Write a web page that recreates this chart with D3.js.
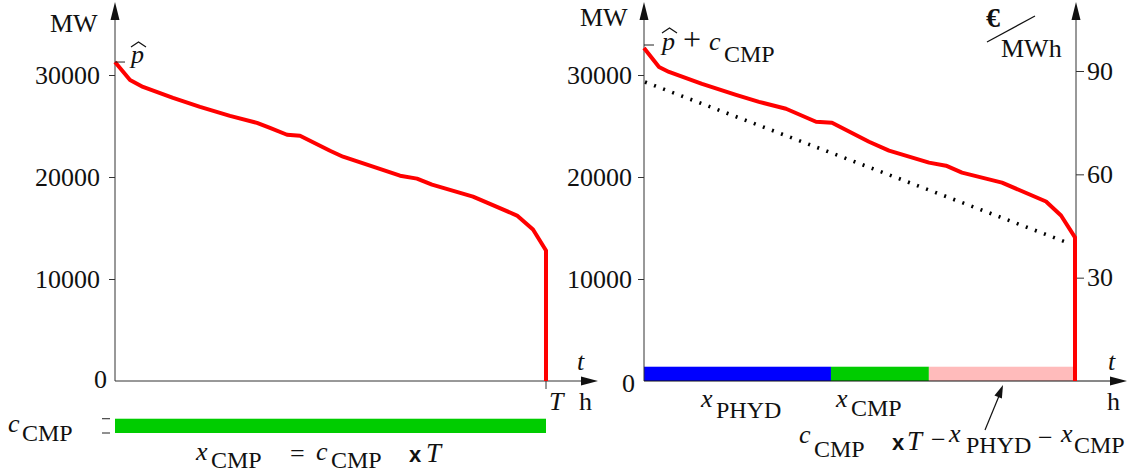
<!DOCTYPE html>
<html><head><meta charset="utf-8">
<script src="https://cdn.jsdelivr.net/npm/d3@7"></script>
<style>
body{margin:0;background:#fff}
svg{display:block}
text{font-family:"Liberation Serif","Times New Roman","DejaVu Serif",serif;fill:#111}
</style>
</head><body><svg id="c" width="1137" height="474"></svg>
<script>
// ---------------- data ----------------
const T = 8760;               // hours in the period
const cCMP = 1400;            // MW
const mwTicks = [10000, 20000, 30000];
const priceTicks = [30, 60, 90];
const leftHours = [0,305,569,1179,1728,2337,2886,3150,3496,3760,4370,4634,5793,6138,6443,7276,7561,8171,8496,8760,8760];
const leftMW    = [31270,29510,28830,27750,26870,25990,25310,24820,24140,24040,22570,21990,20130,19840,19250,18080,17490,16220,14850,12800,0];
const rightHours = [0,305,508,1179,1870,2337,2886,3496,3821,4573,4980,5793,6138,6463,7276,8171,8476,8760,8760];
const rightMW    = [32650,30790,30300,29130,28050,27370,26690,25420,25320,23460,22580,21410,21110,20430,19450,17600,16230,14080,0];
const priceHours = [20, 8600];
const priceEUR   = [86.8, 40.2];
const segNames  = ["PHYD", "CMP", "REST"];
const segStarts = [0, 3800, 5790];
const segEnds   = [3800, 5790, 8760];
const segColors = ["#0000ff", "#00cc00", "#ffbbbb"];

// ---------------- setup ----------------
const svg = d3.select("#c");
const axisCol = "#333";
const serif = '"Liberation Serif","Times New Roman","DejaVu Serif",serif';
const xL = d3.scaleLinear([0, T], [115, 546]);
const xR = d3.scaleLinear([0, T], [644, 1075]);
const y  = d3.scaleLinear([0, 30000], [381, 75]);
const yP = d3.scaleLinear([0, 90], [381, 71]);

function txt(x, yy, s, o = {}) {
  const t = svg.append("text").attr("x", x).attr("y", yy).text(s)
    .style("font-size", (o.size || 26) + "px");
  if (o.it) t.style("font-style", "italic");
  if (o.bold) t.style("font-weight", "bold");
  if (o.fam) t.style("font-family", o.fam);
  if (o.anchor) t.attr("text-anchor", o.anchor);
  return t;
}
function arrowUp(x, tipY) {
  svg.append("path").attr("d", `M${x},${tipY} L${x-4.5},${tipY+18} L${x+4.5},${tipY+18} Z`).attr("fill", "#111");
}
function arrowRight(tipX, yy) {
  svg.append("path").attr("d", `M${tipX},${yy} L${tipX-17},${yy-4.5} L${tipX-17},${yy+4.5} Z`).attr("fill", "#111");
}
function hat(x, yy) {
  svg.append("path").attr("d", `M${x},${yy+5} L${x+7.5},${yy} L${x+15},${yy+5}`)
    .attr("fill", "none").attr("stroke", "#111").attr("stroke-width", 1.2);
}
function styleTicks(g) {
  g.select(".domain").remove();
  g.selectAll(".tick line").attr("stroke", axisCol);
  g.selectAll(".tick text").style("font-family", serif).style("font-size", "26px").attr("fill", "#111");
}

const line = (xs) => d3.line().x(d => xs(d[0])).y(d => y(d[1]));

// ---------------- LEFT PANEL ----------------
const barH = y(0) - y(cCMP);
svg.append("rect").attr("x", xL(0)).attr("y", 433 - barH).attr("width", xL(T) - xL(0)).attr("height", barH).attr("fill", "#00cc00");
[433 - barH, 433].forEach(v => svg.append("line").attr("x1", 102).attr("x2", 110).attr("y1", v).attr("y2", v).attr("stroke", "#222").attr("stroke-width", 1));

svg.append("line").attr("x1", xL(0)).attr("x2", xL(0)).attr("y1", y(0)).attr("y2", 10).attr("stroke", axisCol);
arrowUp(xL(0), 2);
svg.append("line").attr("x1", xL(0)).attr("x2", xL(T) + 45).attr("y1", y(0)).attr("y2", y(0)).attr("stroke", axisCol);
arrowRight(xL(T) + 52, y(0));
svg.append("line").attr("x1", xL(T)).attr("x2", xL(T)).attr("y1", y(0)).attr("y2", y(0) + 8).attr("stroke", axisCol);

const gL = svg.append("g").attr("transform", `translate(${xL(0)},0)`)
  .call(d3.axisLeft(y).tickValues(mwTicks).tickSize(6).tickPadding(9).tickFormat(d3.format("d")));
styleTicks(gL);
txt(xL(0) - 8, y(0) + 7, "0", {anchor: "end"});

svg.append("path").datum(leftHours.map((h, i) => [h, leftMW[i]]))
  .attr("d", line(xL)).attr("fill", "none").attr("stroke", "#ff0000").attr("stroke-width", 4).attr("stroke-linejoin", "round");

svg.append("line").attr("x1", xL(0)).attr("x2", xL(0) + 10).attr("y1", y(leftMW[0])).attr("y2", y(leftMW[0])).attr("stroke", "#222");
txt(131, 63, "p", {it: true});
hat(131, 42);

txt(50, 32, "MW");
txt(577, 370, "t", {it: true});
txt(549, 410, "T", {it: true});
txt(579, 410, "h");
txt(8, 432, "c", {it: true});
txt(22, 441, "CMP", {size: 24});
txt(196, 460, "x", {it: true});
txt(211, 468, "CMP", {size: 24});
txt(290, 462, "=");
txt(316, 460, "c", {it: true});
txt(331, 468, "CMP", {size: 24});
txt(409, 462, "x", {bold: true, fam: '"Liberation Sans",sans-serif', size: 22});
txt(426, 462, "T", {it: true, size: 27});

// ---------------- RIGHT PANEL ----------------
svg.selectAll("rect.seg").data(segNames).join("rect").attr("class", "seg")
  .attr("x", (d, i) => xR(segStarts[i])).attr("width", (d, i) => xR(segEnds[i]) - xR(segStarts[i]))
  .attr("y", y(cCMP)).attr("height", y(0) - y(cCMP)).attr("fill", (d, i) => segColors[i]);

svg.append("line").attr("x1", xR(0)).attr("x2", xR(0)).attr("y1", y(0)).attr("y2", 10).attr("stroke", axisCol);
arrowUp(xR(0), 2);
svg.append("line").attr("x1", xR(T) + 1).attr("x2", xR(T) + 1).attr("y1", y(0)).attr("y2", 10).attr("stroke", axisCol);
arrowUp(xR(T) + 1, 2);
svg.append("line").attr("x1", xR(0)).attr("x2", xR(T) + 45).attr("y1", y(0)).attr("y2", y(0)).attr("stroke", "#111");
arrowRight(xR(T) + 52, y(0));

const gR = svg.append("g").attr("transform", `translate(${xR(0)},0)`)
  .call(d3.axisLeft(y).tickValues(mwTicks).tickSize(6).tickPadding(6).tickFormat(d3.format("d")));
styleTicks(gR);
txt(xR(0) - 9, y(0) + 11, "0", {anchor: "end"});

const gP = svg.append("g").attr("transform", `translate(${xR(T) + 1},0)`)
  .call(d3.axisRight(yP).tickValues(priceTicks).tickSize(8).tickPadding(3));
styleTicks(gP);

// price dotted line
svg.append("path").datum(priceHours.map((h, i) => [h, priceEUR[i]]))
  .attr("d", d3.line().x(d => xR(d[0])).y(d => yP(d[1])))
  .attr("fill", "none").attr("stroke", "#000").attr("stroke-width", 3.6).attr("stroke-dasharray", "2 7.7");

svg.append("path").datum(rightHours.map((h, i) => [h, rightMW[i]]))
  .attr("d", line(xR)).attr("fill", "none").attr("stroke", "#ff0000").attr("stroke-width", 4).attr("stroke-linejoin", "round");

svg.append("line").attr("x1", xR(0)).attr("x2", xR(0) + 10).attr("y1", 45).attr("y2", 45).attr("stroke", "#222");
txt(662, 50, "p", {it: true});
hat(662, 28);
txt(683, 50, "+", {size: 32});
txt(709, 50, "c", {it: true});
txt(724, 62, "CMP", {size: 24});

txt(580, 26, "MW");
txt(986, 27, "€", {bold: true, size: 28});
svg.append("line").attr("x1", 987).attr("y1", 42).attr("x2", 1035).attr("y2", 16).attr("stroke", "#111").attr("stroke-width", 1.2);
txt(1001, 57, "MWh");
txt(1108, 370, "t", {it: true});
txt(1107, 410, "h");

txt(701, 407, "x", {it: true});
txt(716, 418, "PHYD", {size: 24});
txt(836, 407, "x", {it: true});
txt(851, 416, "CMP", {size: 24});
txt(799, 443, "c", {it: true});
txt(814, 457, "CMP", {size: 24});
txt(892, 450, "x", {bold: true, fam: '"Liberation Sans",sans-serif', size: 22});
txt(907, 450, "T", {it: true, size: 27});
txt(931, 448, "−");
txt(949, 442, "x", {it: true});
txt(966, 453, "PHYD", {size: 24});
txt(1038, 446, "−");
txt(1061, 442, "x", {it: true});
txt(1074, 453, "CMP", {size: 24});

svg.append("line").attr("x1", 985).attr("y1", 430).attr("x2", 999).attr("y2", 396).attr("stroke", "#111").attr("stroke-width", 1.2);
(function () {
  const tx = 1003, ty = 385, ang = Math.atan2(430 - 385, 985 - 1003);
  const L = 13, W = 4;
  const bx = tx + L * Math.cos(ang), by = ty + L * Math.sin(ang);
  const px = -Math.sin(ang) * W, py = Math.cos(ang) * W;
  svg.append("path").attr("d", `M${tx},${ty} L${bx + px},${by + py} L${bx - px},${by - py} Z`).attr("fill", "#111");
})();
</script>
</body></html>
